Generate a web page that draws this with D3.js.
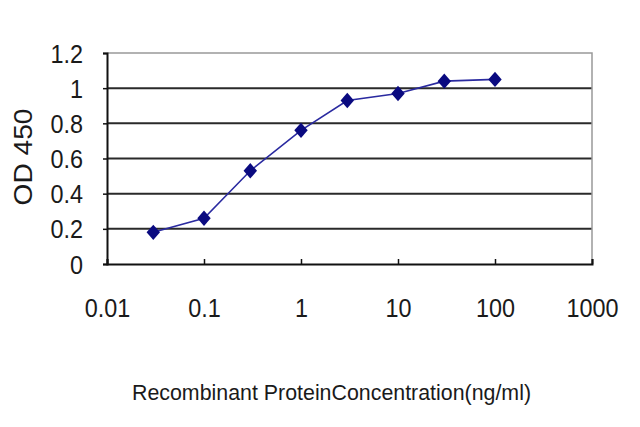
<!DOCTYPE html>
<html lang='en'>
<head>
<meta charset='utf8'>
<title>OD 450 curve</title>
<script src="https://cdn.jsdelivr.net/npm/d3@7"></script>
<style>
  body { margin: 0; background: #fff; }
  text { font-family: 'Liberation Sans', Arial, sans-serif; fill: #1a1a1a; }
</style>
</head>
<body>
<svg id='chart' width='640' height='427'></svg>
<script>
// concentration (ng/ml) and OD 450 readings
var conc = [0.03, 0.1, 0.3, 1, 3, 10, 30, 100];
var od = [0.18, 0.26, 0.53, 0.76, 0.93, 0.97, 1.04, 1.05];
var xTicks = [0.01, 0.1, 1, 10, 100, 1000];
var xTickLabels = ['0.01', '0.1', '1', '10', '100', '1000'];
var yTicks = [0, 0.2, 0.4, 0.6, 0.8, 1, 1.2];
var yTickLabels = ['0', '0.2', '0.4', '0.6', '0.8', '1', '1.2'];

var svg = d3.select('#chart');
var plotL = 107, plotR = 592, plotT = 53, plotB = 264;

var x = d3.scaleLog().domain([0.01, 1000]).range([plotL, plotR]);
var y = d3.scaleLinear().domain([0, 1.2]).range([plotB, plotT]);

// gridlines
svg.append('g')
    .selectAll('line')
    .data(yTicks.filter(function(d) { return d > 0 && d < 1.2; }))
    .enter().append('line')
    .attr('x1', plotL).attr('x2', plotR)
    .attr('y1', function(d) { return y(d); })
    .attr('y2', function(d) { return y(d); })
    .attr('stroke', '#2a2a2a')
    .attr('stroke-width', 2);

// grey frame top/right
svg.append('path')
    .attr('d', 'M' + plotL + ',' + y(1.2) + 'H' + plotR + 'V' + plotB)
    .attr('fill', 'none')
    .attr('stroke', '#999')
    .attr('stroke-width', 1.5);

// y axis
var yAxis = svg.append('g')
    .attr('transform', 'translate(' + plotL + ',0)')
    .call(d3.axisLeft(y).tickValues(yTicks)
        .tickFormat(function(d, i) { return yTickLabels[i]; })
        .tickSize(4));
yAxis.select('.domain').attr('stroke', '#111').attr('stroke-width', 2);
yAxis.selectAll('.tick line').attr('stroke', '#111').attr('stroke-width', 1.5);
yAxis.selectAll('.tick text')
    .attr('font-size', 26)
    .attr('dy', null)
    .attr('x', -24 / 0.9)
    .attr('y', 9)
    .attr('transform', 'scale(0.9,1)')
    .attr('fill', '#1a1a1a');

// x axis (ticks point inward)
var xAxis = svg.append('g')
    .attr('transform', 'translate(0,' + plotB + ')')
    .call(d3.axisBottom(x).tickValues(xTicks)
        .tickFormat(function(d, i) { return xTickLabels[i]; })
        .tickSize(-5));
xAxis.select('.domain').attr('stroke', '#111').attr('stroke-width', 2);
xAxis.selectAll('.tick line').attr('stroke', '#111').attr('stroke-width', 1.5);
xAxis.selectAll('.tick text')
    .attr('font-size', 26)
    .attr('dy', null)
    .attr('y', 53)
    .attr('transform', 'scale(0.9,1)')
    .attr('fill', '#1a1a1a');

// curve
var line = d3.line()
    .x(function(d, i) { return x(conc[i]); })
    .y(function(d) { return y(d); });
svg.append('path')
    .datum(od)
    .attr('d', line)
    .attr('fill', 'none')
    .attr('stroke', '#2a2aa0')
    .attr('stroke-width', 1.6);

svg.append('g')
    .selectAll('path')
    .data(od)
    .enter().append('path')
    .attr('d', d3.symbol().type(d3.symbolDiamond2).size(115))
    .attr('transform', function(d, i) { return 'translate(' + x(conc[i]) + ',' + y(d) + ') scale(1,1.15)'; })
    .attr('fill', '#0a0a80');

// axis titles
svg.append('text')
    .attr('transform', 'translate(32,157) rotate(-90)')
    .attr('text-anchor', 'middle')
    .attr('font-size', 25)
    .attr('textLength', 97)
    .attr('lengthAdjust', 'spacingAndGlyphs')
    .text('OD 450');

svg.append('text')
    .attr('x', 132)
    .attr('y', 400)
    .attr('font-size', 22)
    .attr('textLength', 399)
    .attr('lengthAdjust', 'spacingAndGlyphs')
    .text('Recombinant ProteinConcentration(ng/ml)');
</script>
</body>
</html>
